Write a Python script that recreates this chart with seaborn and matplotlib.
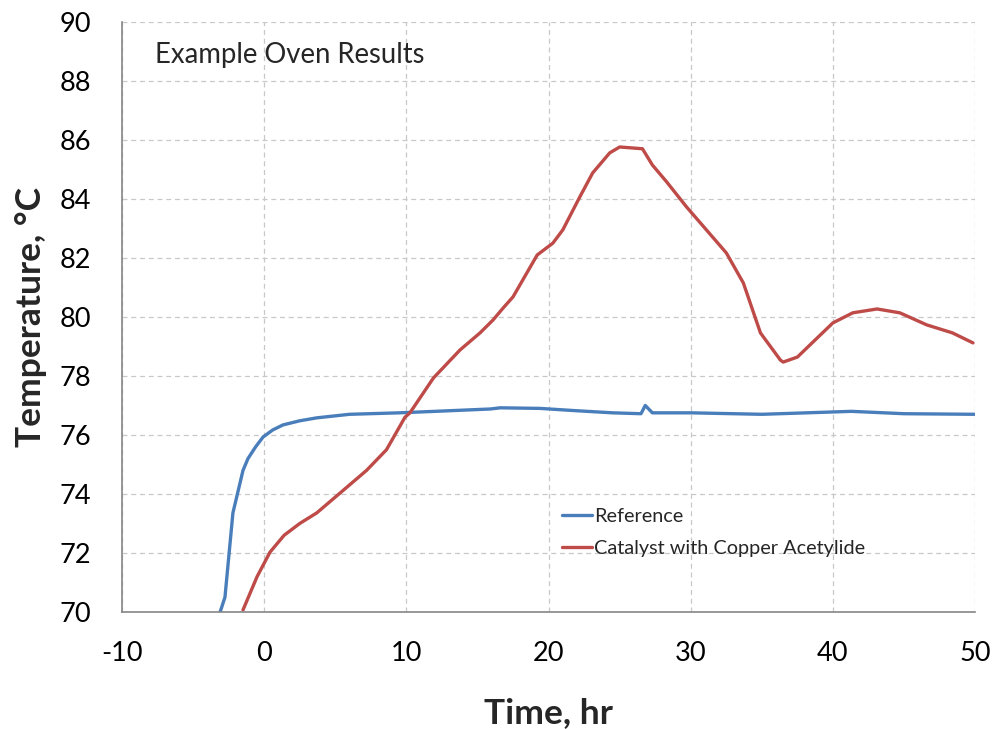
import numpy as np
import pandas as pd
import matplotlib
matplotlib.use('Agg')
import matplotlib.pyplot as plt
import seaborn as sns

# 데이터
ref_time = [-3.1, -2.76, -2.2, -1.49, -1.14, -0.6, -0.08, 0.6, 1.32, 2.5, 3.7, 6.0, 9.5,
            12.0, 15.9, 16.6, 19.4, 22.0, 24.5, 26.5, 26.8, 27.3, 30.0, 35.0, 41.3,
            45.0, 50.0]
ref_temp = [70.0, 70.5, 73.36, 74.8, 75.2, 75.6, 75.93, 76.17, 76.34, 76.48, 76.58, 76.7,
            76.75, 76.8, 76.88, 76.92, 76.9, 76.82, 76.75, 76.72, 77.0, 76.75, 76.75,
            76.7, 76.8, 76.72, 76.7]

cat_time = [-1.49, -0.5, 0.41, 1.4, 2.5, 3.7, 5.33, 7.2, 8.6, 9.9, 10.25, 11.9, 13.77,
            15.18, 16.1, 16.8, 17.5, 19.2, 20.3, 21.0, 22.2, 23.1, 24.3, 25.0, 26.6,
            27.3, 28.3, 29.7, 31.1, 32.5, 33.7, 34.9, 36.3, 36.5, 37.5, 38.9, 40.0,
            41.4, 43.1, 44.7, 46.6, 48.4, 49.85]
cat_temp = [70.07, 71.2, 72.03, 72.6, 73.0, 73.36, 74.03, 74.8, 75.5, 76.6, 76.75, 77.93,
            78.88, 79.46, 79.9, 80.3, 80.68, 82.1, 82.5, 82.95, 84.07, 84.88, 85.56, 85.76,
            85.7, 85.15, 84.58, 83.73, 82.95, 82.17, 81.15, 79.46, 78.54, 78.47, 78.64,
            79.29, 79.8, 80.14, 80.27, 80.14, 79.73, 79.46, 79.12]

series_names = ['Reference', 'Catalyst with Copper Acetylide']
colors = ['#4a7ebb', '#be4b48']

df = pd.concat([
    pd.DataFrame({'time': ref_time, 'temp': ref_temp, 'series': series_names[0]}),
    pd.DataFrame({'time': cat_time, 'temp': cat_temp, 'series': series_names[1]}),
])

sns.set_style('white')
plt.rcParams['font.family'] = ['Lato', 'DejaVu Sans']
plt.rcParams['axes.unicode_minus'] = False

fig = plt.figure(figsize=(9.92, 7.29), dpi=100)
ax = fig.add_axes([0.123, 0.1605, 0.860, 0.8095])

sns.lineplot(data=df, x='time', y='temp', hue='series', palette=colors,
             sort=False, estimator=None, linewidth=2.4, ax=ax)

ax.set_xlim(-10, 50)
ax.set_ylim(70, 90)
ax.set_xticks(np.arange(-10, 51, 10))
ax.set_yticks(np.arange(70, 91, 2))
ax.grid(True, color='#c8c8c8', linestyle=(0, (4, 3)), linewidth=0.9)
ax.set_axisbelow(True)

for s in ['top', 'right']:
    ax.spines[s].set_visible(False)
for s in ['left', 'bottom']:
    ax.spines[s].set_color('#868686')
    ax.spines[s].set_linewidth(1.2)

ax.tick_params(axis='both', direction='out', length=10, width=1.2, color='#868686',
               labelsize=19.5, labelcolor='black')
ax.tick_params(axis='x', pad=11)
ax.tick_params(axis='y', pad=12)

ax.set_xlabel('Time, hr', fontsize=25.5, fontweight='bold', labelpad=22)
ax.set_ylabel('Temperature, °C', fontsize=25.5, fontweight='bold', labelpad=9)

ax.text(-7.7, 88.88, 'Example Oven Results', fontsize=19.8, va='center', ha='left')

leg = ax.legend(loc='upper left', bbox_to_anchor=(0.4947, 0.207), frameon=False,
                fontsize=14.3, handlelength=1.5, handletextpad=0.12, labelspacing=0.75)

plt.savefig('out.png', dpi=100)
plt.close()
